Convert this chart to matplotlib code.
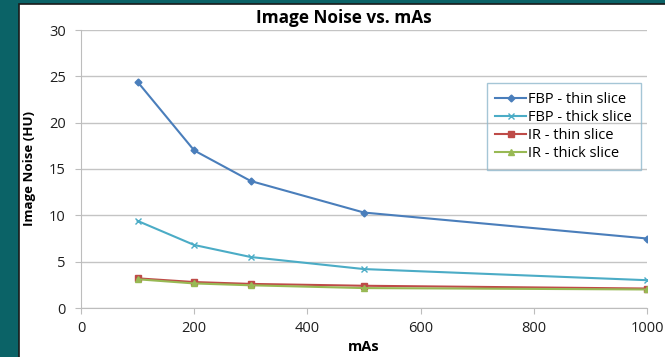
import matplotlib
matplotlib.use('Agg')
import matplotlib.pyplot as plt
from matplotlib.patches import Rectangle

# Data
mas = [100, 200, 300, 500, 1000]
fbp_thin = [24.4, 17.0, 13.7, 10.3, 7.5]
fbp_thick = [9.4, 6.8, 5.5, 4.2, 3.0]
ir_thin = [3.2, 2.8, 2.6, 2.4, 2.1]
ir_thick = [3.1, 2.65, 2.45, 2.15, 2.0]

plt.rcParams['font.family'] = ['Open Sans', 'DejaVu Sans']

fig = plt.figure(figsize=(6.65, 3.57), dpi=100)
fig.patch.set_facecolor('#0b6367')

# white panel behind the chart
panel = Rectangle((19 / 665, -0.01), 1.0, (357 - 4) / 357 + 0.01,
                  transform=fig.transFigure, facecolor='white',
                  edgecolor='#1a1a1a', linewidth=1.2, zorder=-5)
fig.patches.append(panel)

ax = fig.add_axes([81 / 665, (357 - 308) / 357, (647 - 81) / 665, (308 - 30) / 357])
ax.set_zorder(2)
ax.set_facecolor('none')

ax.plot(mas, fbp_thin, color='#4a7ebb', marker='D', markersize=3.5, linewidth=1.5, label='FBP - thin slice')
ax.plot(mas, fbp_thick, color='#4bacc6', marker='x', markersize=4.5, linewidth=1.5, label='FBP - thick slice')
ax.plot(mas, ir_thin, color='#be4b48', marker='s', markersize=4, linewidth=1.5, label='IR - thin slice')
ax.plot(mas, ir_thick, color='#98b954', marker='^', markersize=4, linewidth=1.5, label='IR - thick slice')

ax.set_xlim(0, 1000)
ax.set_ylim(0, 30)
ax.set_xticks([0, 200, 400, 600, 800, 1000])
ax.set_yticks([0, 5, 10, 15, 20, 25, 30])
for s in ['top', 'right']:
    ax.spines[s].set_visible(False)
for s in ['left', 'bottom']:
    ax.spines[s].set_color('#bdbdbd')
ax.tick_params(colors='#bdbdbd', length=4, labelcolor='#1f1f1f', labelsize=10.5)
ax.tick_params(axis='x', pad=5)
ax.tick_params(axis='y', pad=7)
ax.set_axisbelow(True)
ax.grid(True, axis='y', color='#c4c4c4', linewidth=1)

ax.set_xlabel('mAs', fontsize=10.5, fontweight='bold', labelpad=3)
ax.set_ylabel('Image Noise (HU)', fontsize=9.5, fontweight='bold', labelpad=9)
ax.set_title('Image Noise vs. mAs', fontsize=12.4, fontweight='bold', pad=5, x=0.464)

leg = ax.legend(loc='upper right', bbox_to_anchor=(0.989, 0.809), fontsize=10.5,
                frameon=True, fancybox=False, edgecolor='#8fb8cc', borderaxespad=0,
                handlelength=2.1, handletextpad=0.15, labelspacing=0.22, borderpad=0.6)
leg.get_frame().set_facecolor('none')
leg.get_frame().set_linewidth(1)

fig.savefig('out.png', dpi=100, facecolor=fig.get_facecolor())
